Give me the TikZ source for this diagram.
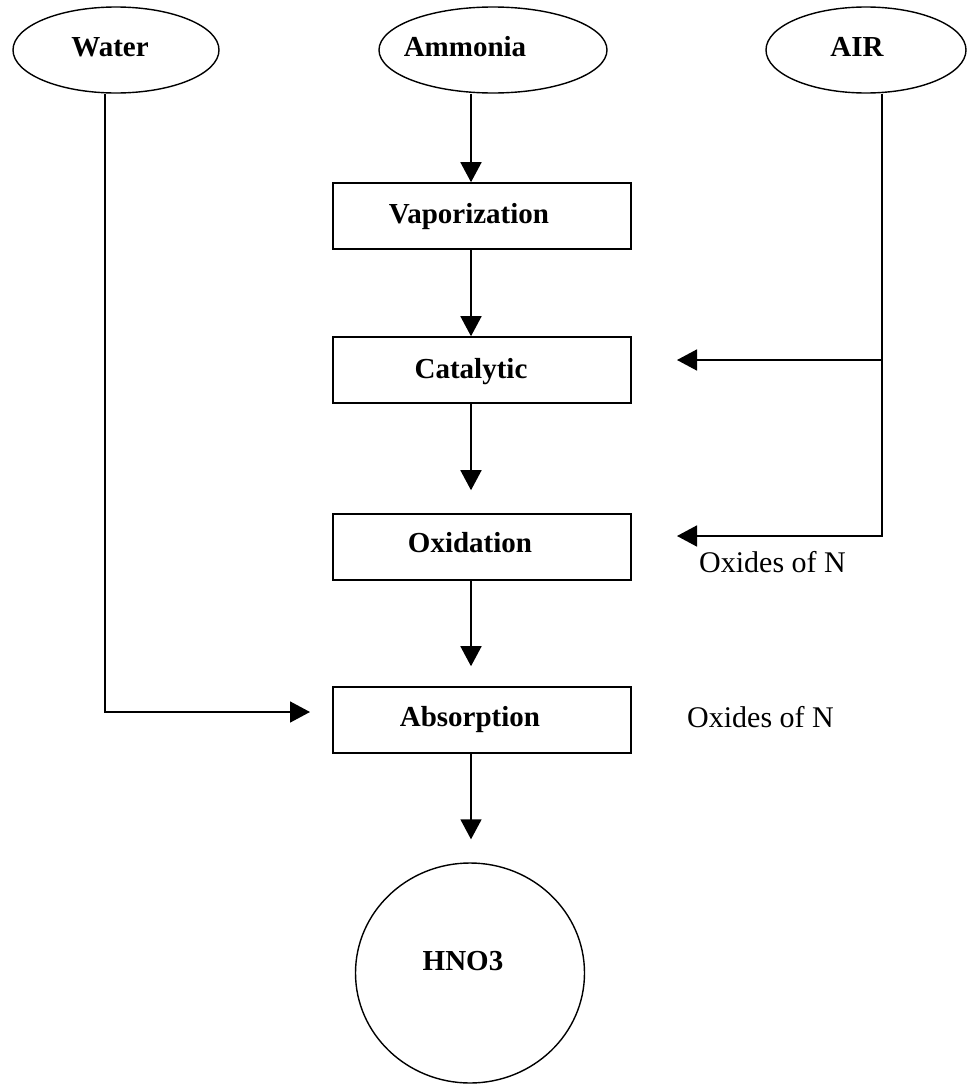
\documentclass[tikz,border=0pt]{standalone}
\usepackage{fontspec}
\setmainfont{Liberation Serif}
\usetikzlibrary{arrows.meta,shapes.geometric}
\begin{document}
\begin{tikzpicture}[x=1pt,y=-1pt,
  oval/.style={draw,ellipse,line width=1.4pt,inner sep=0pt},
  box/.style={draw,rectangle,line width=1.6pt,minimum width=298pt,minimum height=66pt,inner sep=0pt},
  btxt/.style={font=\fontsize{29}{34}\selectfont\bfseries,anchor=base,inner sep=0pt},
  ntxt/.style={font=\fontsize{30}{36}\selectfont,anchor=base west,inner sep=0pt},
  flow/.style={line width=1.6pt,-{Triangle[length=20pt,width=21pt]}}]
\useasboundingbox (0,0) rectangle (968,1084);
% sources
\node[oval,minimum width=206pt,minimum height=86pt] (water) at (116,50) {};
\node[btxt] (watert) at (110,56) {Water};
\node[oval,minimum width=228pt,minimum height=86pt] (ammonia) at (493,50) {};
\node[btxt] (ammoniat) at (465,56) {Ammonia};
\node[oval,minimum width=200pt,minimum height=86pt] (air) at (866,50) {};
\node[btxt] (airt) at (857,56) {AIR};
% process boxes
\node[box] (vap) at (482,216) {};
\node[btxt] (vapt) at (469,223) {Vaporization};
\node[box] (cat) at (482,370) {};
\node[btxt] (catt) at (471,378) {Catalytic};
\node[box] (oxi) at (482,547) {};
\node[btxt] (oxit) at (470,552) {Oxidation};
\node[box] (abs) at (482,720) {};
\node[btxt] (abst) at (470,726) {Absorption};
% product
\node[oval,minimum width=229pt,minimum height=220pt] (hno3) at (470,973) {};
\node[btxt] (hno3t) at (463,970) {HNO3};
% labels
\node[ntxt] (ox1) at (699,572) {Oxides of N};
\node[ntxt] (ox2) at (687,727) {Oxides of N};
% helper coordinates
\coordinate (col) at (471,0);
\coordinate (wbend) at (105,712);
\coordinate (wend) at (310,712);
\coordinate (ajoin) at (882,360);
\coordinate (aend1) at (677,360);
\coordinate (abend) at (882,536);
\coordinate (aend2) at (677,536);
% main flow
\draw[flow] (ammonia.south -| col) -- (vap.north -| col);
\draw[flow] (vap.south -| col) -- (cat.north -| col);
\draw[flow,shorten >=23pt] (cat.south -| col) -- (oxi.north -| col);
\draw[flow,shorten >=20pt] (oxi.south -| col) -- (abs.north -| col);
\draw[flow,shorten >=23pt] (abs.south -| col) -- (hno3.north -| col);
% water
\draw[flow] (water.south -| wbend) -- (wbend) -- (wend);
% air
\draw[flow] (air.south -| abend) -- (abend) -- (aend2);
\draw[flow] (ajoin) -- (aend1);
\end{tikzpicture}
\end{document}
